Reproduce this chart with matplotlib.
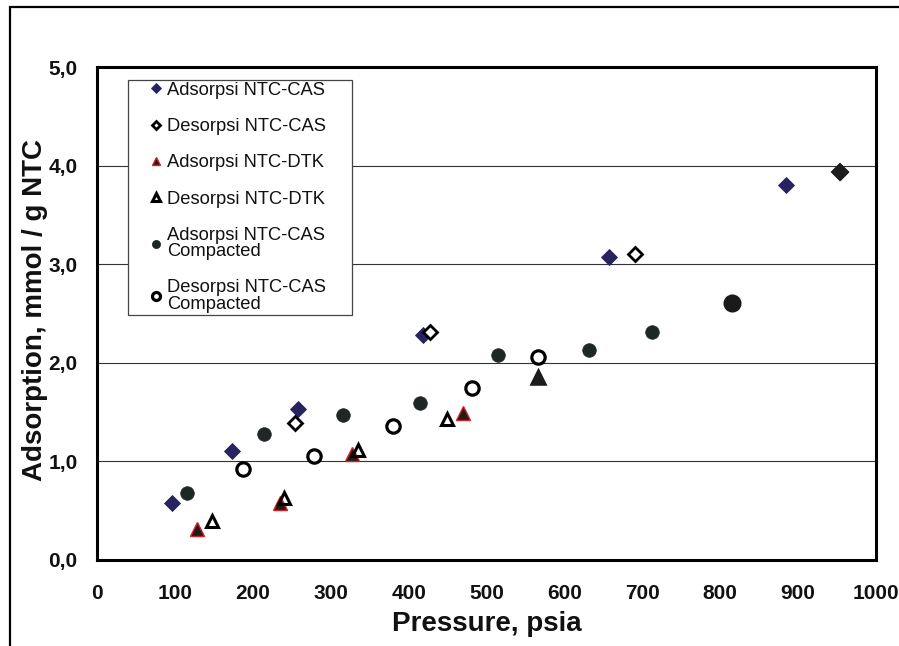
import matplotlib
matplotlib.use("Agg")
import matplotlib.pyplot as plt
from matplotlib.patches import Rectangle

plt.rcParams['font.family'] = ['Liberation Sans', 'DejaVu Sans']

# ---- data (pressure in psia, adsorption in mmol/g NTC) ----
cas_ads_p = [96, 173, 258, 419, 657, 885, 954]
cas_ads_q = [0.58, 1.11, 1.53, 2.28, 3.07, 3.80, 3.94]
cas_des_p = [954, 691, 427, 254]
cas_des_q = [3.94, 3.10, 2.31, 1.39]

dtk_ads_p = [128, 235, 327, 470, 566]
dtk_ads_q = [0.31, 0.58, 1.07, 1.49, 1.86]
dtk_des_p = [566, 449, 335, 240, 147]
dtk_des_q = [1.86, 1.43, 1.12, 0.63, 0.40]

comp_ads_p = [116, 215, 316, 415, 515, 632, 713, 815]
comp_ads_q = [0.68, 1.28, 1.47, 1.59, 2.08, 2.13, 2.31, 2.61]
comp_des_p = [815, 566, 481, 380, 278, 188]
comp_des_q = [2.61, 2.06, 1.74, 1.36, 1.05, 0.92]

series_labels = ["Adsorpsi NTC-CAS", "Desorpsi NTC-CAS", "Adsorpsi NTC-DTK",
                 "Desorpsi NTC-DTK", "Adsorpsi NTC-CAS\nCompacted",
                 "Desorpsi NTC-CAS\nCompacted"]

xticks = [0, 100, 200, 300, 400, 500, 600, 700, 800, 900, 1000]
xtick_labels = ["0", "100", "200", "300", "400", "500", "600", "700", "800", "900", "1000"]
yticks = [0, 1, 2, 3, 4, 5]
ytick_labels = ["0,0", "1,0", "2,0", "3,0", "4,0", "5,0"]

# ---- figure ----
fig = plt.figure(figsize=(8.99, 6.46), dpi=100)
ax = fig.add_axes([97 / 899, 86 / 646, 779 / 899, 493 / 646])

# outer frame (top and left visible)
fig.add_artist(Rectangle((10 / 899, -0.1), 1.2, (646 - 7) / 646 + 0.1,
                         transform=fig.transFigure, fill=False,
                         edgecolor='black', linewidth=1.6, clip_on=False))

navy = '#26235f'
dark = '#1f2626'

h1, = ax.plot(cas_ads_p, cas_ads_q, linestyle='none', marker='D', ms=8.0,
              mfc=navy, mec=navy, mew=0.6, zorder=3)
ax.plot(cas_des_p[:1], cas_des_q[:1], linestyle='none', marker='D', ms=8.6,
        mfc='#1c1c1c', mec='#1c1c1c', mew=1.5, zorder=4)
h2, = ax.plot(cas_des_p[1:], cas_des_q[1:], linestyle='none', marker='D', ms=6.8,
              mfc='white', mec='black', mew=2.0, zorder=4)

h3, = ax.plot(dtk_ads_p, dtk_ads_q, linestyle='none', marker='^', ms=9.8,
              mfc='#241a1a', mec='#d42020', mew=1.0, zorder=5)
ax.plot(dtk_des_p[:1], dtk_des_q[:1], linestyle='none', marker='^', ms=9.8,
        mfc='#1c1c1c', mec='#1c1c1c', mew=1.8, zorder=6)
h4, = ax.plot(dtk_des_p[1:], dtk_des_q[1:], linestyle='none', marker='^', ms=9.0,
              mfc='none', mec='black', mew=2.2, zorder=6)

h5, = ax.plot(comp_ads_p, comp_ads_q, linestyle='none', marker='o', ms=9.8,
              mfc=dark, mec=dark, mew=0.5, zorder=7)
ax.plot(comp_des_p[:1], comp_des_q[:1], linestyle='none', marker='o', ms=11.5,
        mfc='#1a1a1a', mec='#1a1a1a', mew=1.5, zorder=8)
h6, = ax.plot(comp_des_p[1:], comp_des_q[1:], linestyle='none', marker='o', ms=9.6,
              mfc='white', mec='black', mew=2.3, zorder=8)

# axes styling
ax.set_xlim(0, 1000)
ax.set_ylim(0, 5)
ax.set_xticks(xticks)
ax.set_xticklabels(xtick_labels)
ax.set_yticks(yticks)
ax.set_yticklabels(ytick_labels)
ax.tick_params(axis='both', length=0, labelsize=15)
ax.tick_params(axis='x', pad=17)
ax.tick_params(axis='y', pad=14)
for lab in ax.get_xticklabels() + ax.get_yticklabels():
    lab.set_fontweight('bold')
    lab.set_color('#111111')

for s in ax.spines.values():
    s.set_linewidth(2.2)
    s.set_color('black')

ax.grid(axis='y', color='#333333', linewidth=0.8)
ax.set_axisbelow(True)

ax.set_xlabel("Pressure, psia", fontsize=20, fontweight='bold', color='#111111')
ax.set_ylabel("Adsorption, mmol / g NTC", fontsize=20, fontweight='bold', color='#111111')
ax.xaxis.set_label_coords(0.5006, -0.104)
ax.yaxis.set_label_coords(-0.063, 0.507)

leg = ax.legend([h1, h2, h3, h4, h5, h6], series_labels,
                loc='upper left', bbox_to_anchor=(0.0398, 0.50, 0.2876, 0.4736),
                mode='expand',
                fontsize=13.2, markerscale=0.6, frameon=True, fancybox=False,
                borderpad=0.1, labelspacing=1.05, handlelength=2.9,
                handletextpad=-0.85, borderaxespad=0.0)
frame = leg.get_frame()
frame.set_edgecolor('#444444')
frame.set_linewidth(0.9)
frame.set_facecolor('white')
frame.set_alpha(1.0)
for t in leg.get_texts():
    t.set_linespacing(0.95)
    t.set_color('#111111')

fig.savefig("out.png", dpi=100)
